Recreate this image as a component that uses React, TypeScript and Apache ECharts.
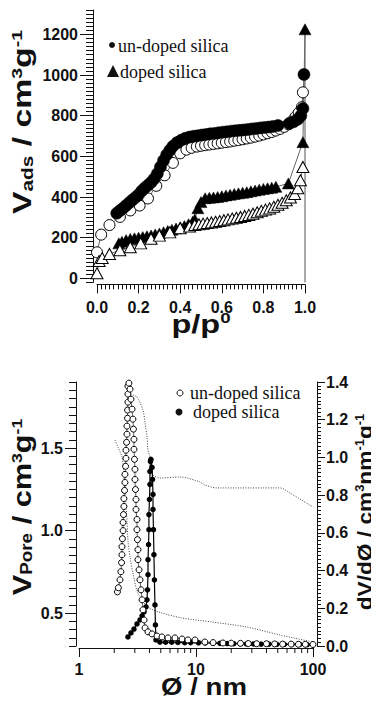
import React, { useEffect, useRef } from 'react';
import * as echarts from 'echarts';

const SANS = '"Liberation Sans", Arial, sans-serif';
const SERIF = '"Liberation Serif", "Times New Roman", serif';
const INK = '#111';

// ---------- Top chart: N2 isotherms (p/p0 , V_ads) ----------
const isoYTicks = [0, 200, 400, 600, 800, 1000, 1200];
const isoEdge = [[1.0, -20], [1.0, 1228]];
const undopedAds = [
  [0.0, 128], [0.02, 215], [0.06, 262], [0.11, 302], [0.16, 334], [0.205, 358], [0.245, 393],
  [0.285, 455], [0.325, 507], [0.365, 568], [0.4, 615], [0.43, 633], [0.455, 642], [0.48, 648],
  [0.5, 652], [0.52, 655], [0.54, 658], [0.56, 661], [0.58, 664], [0.6, 667], [0.62, 670],
  [0.64, 673], [0.66, 677], [0.68, 680], [0.7, 684], [0.72, 688], [0.74, 692], [0.76, 697],
  [0.78, 702], [0.8, 708], [0.82, 714], [0.84, 720], [0.86, 727], [0.88, 735], [0.9, 745],
  [0.92, 758], [0.94, 776], [0.955, 795], [0.97, 815], [0.985, 842], [0.99, 915]
];
const undopedDes = [
  [0.995, 1003], [0.99, 835], [0.98, 800], [0.965, 782], [0.945, 770], [0.925, 762], [0.87, 752],
  [0.845, 747], [0.825, 744], [0.805, 742], [0.785, 740], [0.765, 737], [0.745, 735], [0.725, 732],
  [0.705, 730], [0.685, 728], [0.665, 726], [0.645, 724], [0.625, 721], [0.605, 719], [0.585, 716],
  [0.565, 713], [0.545, 711], [0.525, 708], [0.505, 705], [0.485, 702], [0.465, 699], [0.445, 695],
  [0.425, 689], [0.405, 680], [0.385, 668], [0.365, 650], [0.35, 630], [0.335, 608], [0.32, 580],
  [0.305, 548], [0.29, 515], [0.275, 490], [0.26, 472], [0.245, 458], [0.23, 445], [0.215, 430],
  [0.2, 412], [0.185, 398], [0.17, 385], [0.155, 372], [0.14, 358], [0.125, 345], [0.11, 333],
  [0.095, 320]
];
const dopedAds = [
  [0.0, 25], [0.01, 85], [0.025, 100], [0.06, 120], [0.11, 138], [0.16, 153], [0.21, 172],
  [0.26, 195], [0.3, 210], [0.35, 226], [0.4, 246], [0.445, 255], [0.47, 262], [0.49, 266],
  [0.51, 269], [0.53, 272], [0.55, 275], [0.57, 278], [0.59, 282], [0.61, 286], [0.63, 290],
  [0.65, 294], [0.67, 298], [0.69, 302], [0.71, 307], [0.73, 312], [0.75, 318], [0.77, 325],
  [0.79, 332], [0.81, 338], [0.83, 344], [0.85, 352], [0.87, 362], [0.89, 372], [0.91, 384],
  [0.93, 398], [0.95, 415], [0.965, 443], [0.978, 482], [0.99, 548]
];
const dopedDes = [
  [1.0, 1225], [0.99, 670], [0.92, 467], [0.86, 450], [0.84, 446], [0.82, 443], [0.8, 440],
  [0.78, 436], [0.76, 432], [0.74, 428], [0.72, 424], [0.7, 421], [0.68, 418], [0.66, 415],
  [0.64, 411], [0.62, 408], [0.6, 404], [0.58, 400], [0.56, 398], [0.54, 396], [0.52, 394],
  [0.5, 375], [0.485, 345], [0.47, 290], [0.46, 278], [0.44, 266], [0.42, 257], [0.4, 251],
  [0.38, 245], [0.36, 239], [0.34, 233], [0.32, 227], [0.3, 221], [0.28, 216], [0.26, 211],
  [0.24, 207], [0.22, 203], [0.2, 200], [0.18, 197], [0.16, 194], [0.14, 188], [0.12, 180],
  [0.105, 172]
];

// ---------- Bottom chart: pore size distribution (Ø nm) ----------
const psdLeftTicks = [0.5, 1.0, 1.5];
const psdRightTicks = [0, 0.2, 0.4, 0.6, 0.8, 1.0, 1.2, 1.4];
const psdXMinorTicks = [2, 3, 4, 5, 6, 7, 8, 9, 20, 30, 40, 50, 60, 70, 80, 90];
const undopedCum = [
  [2.03, 1.548], [2.15, 1.506], [2.33, 1.445], [2.42, 1.336], [2.57, 1.064], [2.62, 0.942],
  [2.73, 0.839], [2.89, 0.742], [3.19, 0.621], [3.89, 0.536], [5.12, 0.5], [7.6, 0.47],
  [13.9, 0.445], [27.2, 0.415], [52, 0.367], [100, 0.324]
];
const dopedCum = [
  [2.89, 1.821], [3.13, 1.809], [3.52, 1.73], [3.67, 1.652], [3.81, 1.567], [3.89, 1.488],
  [4.04, 1.445], [4.21, 1.367], [4.29, 1.336], [4.92, 1.318], [7.3, 1.324], [10.8, 1.294],
  [11.9, 1.276], [15.1, 1.258], [52, 1.258], [63.6, 1.227], [100, 1.142]
];
const undopedPsd = [
  [2.13, 0.287], [2.17, 0.309], [2.24, 0.351], [2.28, 0.394], [2.31, 0.442], [2.33, 0.484],
  [2.33, 0.527], [2.35, 0.569], [2.38, 0.612], [2.38, 0.655], [2.4, 0.697], [2.42, 0.74],
  [2.42, 0.782], [2.45, 0.825], [2.47, 0.867], [2.47, 0.91], [2.5, 0.953], [2.52, 0.995],
  [2.52, 1.038], [2.55, 1.08], [2.57, 1.123], [2.57, 1.166], [2.6, 1.208], [2.6, 1.251],
  [2.62, 1.293], [2.62, 1.336], [2.62, 1.378], [2.67, 1.394], [2.73, 1.362], [2.78, 1.309],
  [2.84, 1.256], [2.89, 1.203], [2.92, 1.15], [2.95, 1.096], [2.95, 1.043], [2.98, 0.99],
  [3.01, 0.937], [3.01, 0.883], [3.04, 0.83], [3.07, 0.777], [3.07, 0.724], [3.13, 0.671],
  [3.13, 0.617], [3.16, 0.564], [3.19, 0.511], [3.19, 0.458], [3.26, 0.404], [3.32, 0.351],
  [3.39, 0.298], [3.46, 0.245], [3.52, 0.192], [3.6, 0.138], [3.67, 0.096], [3.89, 0.075],
  [4.21, 0.064], [4.64, 0.053], [5.12, 0.048], [5.76, 0.043], [6.61, 0.043], [7.6, 0.037],
  [8.53, 0.032], [9.8, 0.032], [11.9, 0.021], [14, 0.018], [17, 0.016], [20, 0.015],
  [24, 0.014], [28, 0.013], [33, 0.012], [40, 0.012], [47, 0.011], [55, 0.01], [65, 0.01],
  [75, 0.009], [86, 0.009], [100, 0.008]
];
const dopedPsd = [
  [2.62, 0.048], [2.78, 0.069], [2.95, 0.09], [3.13, 0.117], [3.32, 0.138], [3.46, 0.16],
  [3.6, 0.181], [3.74, 0.208], [3.81, 0.245], [3.85, 0.298], [3.89, 0.378], [3.89, 0.458],
  [3.93, 0.538], [3.96, 0.617], [3.96, 0.697], [4.0, 0.777], [4.04, 0.857], [4.04, 0.926],
  [4.08, 0.979], [4.12, 0.99], [4.21, 0.947], [4.25, 0.883], [4.29, 0.804], [4.29, 0.724],
  [4.33, 0.617], [4.37, 0.484], [4.41, 0.351], [4.46, 0.218], [4.5, 0.112], [4.55, 0.032],
  [4.92, 0.021], [5.5, 0.02], [6.2, 0.02], [7, 0.019], [8, 0.018], [9, 0.018], [10.5, 0.017],
  [12, 0.016], [14, 0.015], [16, 0.014], [18.5, 0.013], [21, 0.012], [24, 0.012], [27, 0.011],
  [31, 0.011], [36, 0.01], [42, 0.01], [49, 0.009], [57, 0.009], [66, 0.008], [77, 0.008],
  [89, 0.007], [100, 0.007]
];

const axisLineStyle = { color: INK, width: 1 };
const tickFont = { fontSize: 16, fontWeight: 'bold' as const, fontFamily: SANS, color: INK };

export default function App() {
  const ref = useRef<HTMLDivElement>(null);
  useEffect(() => {
    if (!ref.current) return;
    const chart = echarts.init(ref.current, undefined, { renderer: 'svg' });
    const title = (x: number, y: number, text: string, size: number, rot: number, sx: number) => ({
      type: 'text',
      x,
      y,
      rotation: rot,
      scaleX: sx,
      style: {
        text,
        align: 'center',
        verticalAlign: 'middle',
        rich: {
          a: { fontSize: size, fontWeight: 'bold', fontFamily: SANS, fill: INK, lineHeight: size },
          b: { fontSize: Math.round(size * 0.62), fontWeight: 'bold', fontFamily: SANS, fill: INK, verticalAlign: 'bottom', lineHeight: Math.round(size * 0.62) },
          c: { fontSize: Math.round(size * 0.58), fontWeight: 'bold', fontFamily: SANS, fill: INK, verticalAlign: 'top', lineHeight: Math.round(size * 0.58) }
        }
      }
    });
    const legendText = (x: number, y: number, text: string) => ({
      type: 'text',
      x,
      y,
      style: { text, fontSize: 18, fontFamily: SERIF, fill: INK, align: 'left', verticalAlign: 'middle' }
    });
    const option: any = {
      animation: false,
      backgroundColor: '#fff',
      grid: [
        { left: 97, top: 10, width: 208, height: 272.4, outerBoundsMode: 'none' },
        { left: 79, top: 382, width: 234, height: 264, outerBoundsMode: 'none' }
      ],
      xAxis: [
        {
          type: 'value', gridIndex: 0, min: 0, max: 1, interval: 0.2, offset: 2,
          axisLine: { onZero: false, lineStyle: axisLineStyle },
          axisTick: { length: 9, lineStyle: axisLineStyle },
          minorTick: { show: true, splitNumber: 10, length: 5, lineStyle: axisLineStyle },
          axisLabel: { ...tickFont, margin: 15, formatter: (v: number) => v.toFixed(1) },
          splitLine: { show: false }, minorSplitLine: { show: false }
        },
        {
          type: 'log', gridIndex: 1, min: 1, max: 100, logBase: 10, offset: 2,
          axisLine: { onZero: false, lineStyle: axisLineStyle },
          axisTick: { length: 9, lineStyle: axisLineStyle },
          axisLabel: { ...tickFont, margin: 13 },
          splitLine: { show: false }
        }
      ],
      yAxis: [
        {
          type: 'value', gridIndex: 0, position: 'left', min: -20, max: 1320, interval: 20, offset: 4,
          axisLine: { show: true, onZero: false, lineStyle: axisLineStyle },
          axisTick: { show: true, length: 7, lineStyle: axisLineStyle },
          axisLabel: { show: false }, splitLine: { show: false }
        },
        {
          type: 'value', gridIndex: 0, position: 'left', min: -20, max: 1320, offset: 4,
          axisLine: { show: false, onZero: false },
          axisTick: { show: true, length: 13, customValues: isoYTicks, lineStyle: axisLineStyle },
          axisLabel: { ...tickFont, margin: 15, customValues: isoYTicks, formatter: (v: number) => String(v) },
          splitLine: { show: false }
        },
        {
          type: 'value', gridIndex: 1, position: 'left', min: 0.3, max: 1.9, interval: 0.05, offset: 3,
          axisLine: { show: true, onZero: false, lineStyle: axisLineStyle },
          axisTick: { show: true, length: 7, lineStyle: axisLineStyle },
          axisLabel: { show: false }, splitLine: { show: false }
        },
        {
          type: 'value', gridIndex: 1, position: 'left', min: 0.3, max: 1.9, offset: 3,
          axisLine: { show: false, onZero: false },
          axisTick: { show: true, length: 11, customValues: psdLeftTicks, lineStyle: axisLineStyle },
          axisLabel: { ...tickFont, margin: 13, customValues: psdLeftTicks, formatter: (v: number) => v.toFixed(1) },
          splitLine: { show: false }
        },
        {
          type: 'value', gridIndex: 1, position: 'right', min: 0, max: 1.4, interval: 0.02, offset: 4,
          axisLine: { show: true, onZero: false, lineStyle: axisLineStyle },
          axisTick: { show: true, length: 4, lineStyle: axisLineStyle },
          axisLabel: { show: false }, splitLine: { show: false }
        },
        {
          type: 'value', gridIndex: 1, position: 'right', min: 0, max: 1.4, offset: 4,
          axisLine: { show: false, onZero: false },
          axisTick: { show: true, length: 8, customValues: psdRightTicks, lineStyle: axisLineStyle },
          axisLabel: { ...tickFont, margin: 9, customValues: psdRightTicks, formatter: (v: number) => v.toFixed(1) },
          splitLine: { show: false }
        }
      ],
      series: [
        {
          name: 'edge', type: 'line', xAxisIndex: 0, yAxisIndex: 0, data: isoEdge, symbol: 'none',
          lineStyle: { color: '#555', width: 1 }, silent: true
        },
        {
          name: 'un-doped silica (ads)', type: 'line', xAxisIndex: 0, yAxisIndex: 0, data: undopedAds,
          symbol: 'circle', symbolSize: 11, showAllSymbol: true,
          itemStyle: { color: '#fff', borderColor: '#000', borderWidth: 1 },
          lineStyle: { color: '#666', width: 1 }
        },
        {
          name: 'un-doped silica', type: 'line', xAxisIndex: 0, yAxisIndex: 0, data: undopedDes,
          symbol: 'circle', symbolSize: 12, showAllSymbol: true,
          itemStyle: { color: '#000', borderColor: '#000', borderWidth: 0.5 },
          lineStyle: { color: '#666', width: 1 }
        },
        {
          name: 'doped silica', type: 'line', xAxisIndex: 0, yAxisIndex: 0, data: dopedDes,
          symbol: 'triangle', symbolSize: [12, 11], showAllSymbol: true,
          itemStyle: { color: '#000', borderColor: '#000', borderWidth: 0.5 },
          lineStyle: { color: '#666', width: 1 }
        },
        {
          name: 'doped silica (ads)', type: 'line', xAxisIndex: 0, yAxisIndex: 0, data: dopedAds,
          symbol: 'triangle', symbolSize: [12, 11], showAllSymbol: true,
          itemStyle: { color: '#fff', borderColor: '#000', borderWidth: 1 },
          lineStyle: { color: '#666', width: 1 }
        },
        {
          name: 'un-doped cumulative', type: 'line', xAxisIndex: 1, yAxisIndex: 2, data: undopedCum,
          symbol: 'none', smooth: 0.3, lineStyle: { color: '#444', width: 1, type: [1, 1.5] }
        },
        {
          name: 'doped cumulative', type: 'line', xAxisIndex: 1, yAxisIndex: 2, data: dopedCum,
          symbol: 'none', smooth: 0.3, lineStyle: { color: '#444', width: 1, type: [1, 1.5] }
        },
        {
          name: 'doped PSD', type: 'line', xAxisIndex: 1, yAxisIndex: 4, data: dopedPsd,
          symbol: 'circle', symbolSize: 5.5, showAllSymbol: true,
          itemStyle: { color: '#000' }, lineStyle: { color: '#000', width: 1.2 }
        },
        {
          name: 'un-doped PSD', type: 'line', xAxisIndex: 1, yAxisIndex: 4, data: undopedPsd,
          symbol: 'circle', symbolSize: 6, showAllSymbol: true,
          itemStyle: { color: '#fff', borderColor: '#000', borderWidth: 1 },
          lineStyle: { color: '#000', width: 0.6 }
        },
        {
          name: 'minor ticks', type: 'custom', xAxisIndex: 1, yAxisIndex: 2, silent: true,
          data: psdXMinorTicks.map((v) => [v, 0.3]),
          encode: { x: 0, y: 1 },
          renderItem: (_p: any, api: any) => {
            const pt = api.coord([api.value(0), 0.3]);
            return {
              type: 'line',
              shape: { x1: pt[0], y1: pt[1] + 2, x2: pt[0], y2: pt[1] + 7 },
              style: { stroke: INK, lineWidth: 1 }
            };
          }
        }
      ],
      graphic: [
        { type: 'circle', shape: { cx: 112, cy: 45, r: 3 }, style: { fill: INK } },
        legendText(118, 46, 'un-doped silica'),
        { type: 'polygon', shape: { points: [[107, 77], [113, 65], [119, 77]] }, style: { fill: INK } },
        legendText(120, 72, 'doped silica'),
        { type: 'circle', shape: { cx: 180, cy: 393, r: 3 }, style: { fill: '#fff', stroke: INK, lineWidth: 1 } },
        legendText(190, 393, 'un-doped silica'),
        { type: 'circle', shape: { cx: 179, cy: 412, r: 3.5 }, style: { fill: INK } },
        legendText(193, 412, 'doped silica'),
        title(22, 122, '{a|V}{b|ads}{a| / cm}{c|3}{a|g}{c|-1}', 26, Math.PI / 2, 1.3),
        title(201, 324, '{a|p/p}{c|0}', 26, 0, 1.25),
        title(22, 507, '{a|V}{b|Pore}{a| / cm}{c|3}{a|g}{c|-1}', 26, Math.PI / 2, 1.18),
        title(365, 512, '{a|dV/dØ / cm}{c|3}{a|nm}{c|-1}{a|g}{c|-1}', 21, Math.PI / 2, 1.08),
        title(204, 687, '{a|Ø / nm}', 24, 0, 1.15)
      ]
    };
    chart.setOption(option);
    return () => chart.dispose();
  }, []);
  return <div ref={ref} style={{ width: 379, height: 704, margin: -8 }} />;
}
